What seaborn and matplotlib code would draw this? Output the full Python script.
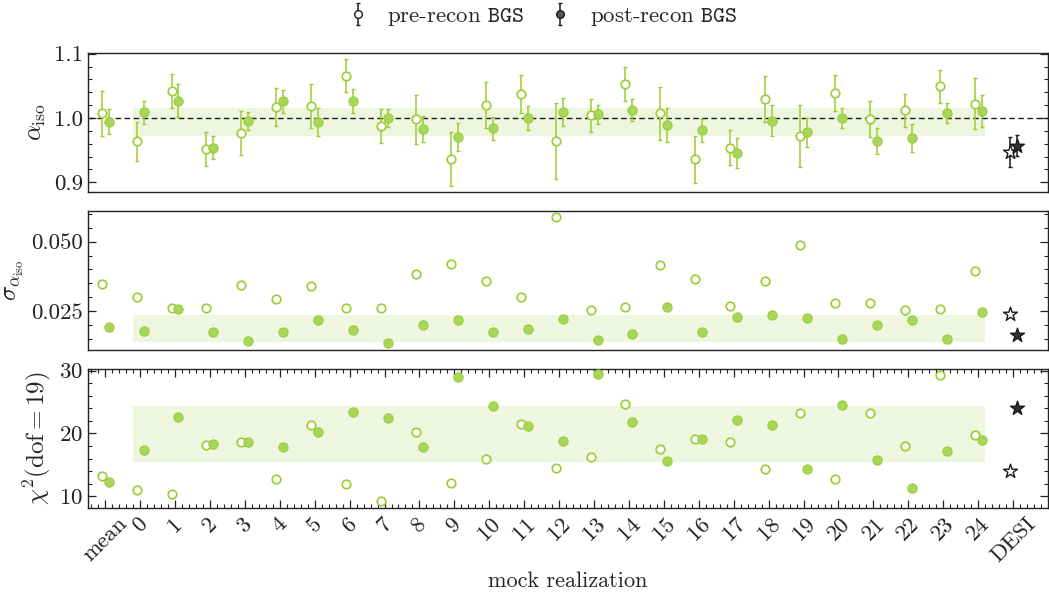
import numpy as np
import pandas as pd
import matplotlib
matplotlib.use("Agg")
import matplotlib.pyplot as plt
from matplotlib.ticker import MultipleLocator, AutoMinorLocator
import seaborn as sns

# ---------------- data ----------------
tick_labels = ["mean"] + [str(i) for i in range(25)] + ["DESI"]
mock_pos = list(range(-1, 25))          # mean + mocks 0..24
desi_pos = 25

alpha_pre = [1.007, 0.964, 1.042, 0.952, 0.977, 1.017, 1.019, 1.066, 0.988, 0.998,
             0.937, 1.020, 1.037, 0.964, 1.004, 1.053, 1.007, 0.936, 0.954, 1.030,
             0.972, 1.039, 0.999, 1.012, 1.049, 1.022]
alpha_post = [0.994, 1.009, 1.027, 0.954, 0.995, 1.026, 0.994, 1.026, 1.000, 0.983,
              0.970, 0.984, 1.000, 1.009, 1.006, 1.013, 0.989, 0.981, 0.946, 0.996,
              0.978, 1.000, 0.964, 0.969, 1.008, 1.011]
sigma_pre = [0.0347, 0.0303, 0.0262, 0.0260, 0.0345, 0.0294, 0.0341, 0.0263, 0.0263, 0.0383,
             0.0419, 0.0359, 0.0300, 0.0589, 0.0254, 0.0266, 0.0416, 0.0366, 0.0268, 0.0360,
             0.0488, 0.0281, 0.0279, 0.0254, 0.0257, 0.0395]
sigma_post = [0.0193, 0.0181, 0.0258, 0.0175, 0.0142, 0.0176, 0.0218, 0.0183, 0.0135, 0.0200,
              0.0217, 0.0177, 0.0185, 0.0221, 0.0146, 0.0170, 0.0267, 0.0176, 0.0230, 0.0236,
              0.0226, 0.0151, 0.0201, 0.0220, 0.0152, 0.0248]
chi2_pre = [13.2, 11.0, 10.3, 18.1, 18.6, 12.8, 21.4, 11.9, 9.3, 20.2,
            12.1, 15.9, 21.5, 14.5, 16.3, 24.7, 17.5, 19.1, 18.6, 14.4,
            23.2, 12.7, 23.3, 18.0, 29.3, 19.7]
chi2_post = [12.3, 17.3, 22.7, 18.3, 18.7, 17.9, 20.3, 23.5, 22.4, 17.9,
             29.0, 24.4, 21.2, 18.8, 29.5, 21.8, 15.6, 19.1, 22.2, 21.3,
             14.4, 24.5, 15.7, 11.3, 17.2, 19.0]

desi_alpha = [0.947, 0.957]     # pre, post
desi_sigma = [0.0239, 0.0165]
desi_chi2 = [14.0, 24.0]

band_alpha = [0.972, 1.015]
band_sigma = [0.0141, 0.0237]
band_chi2 = [15.4, 24.3]
band_x = [-0.2, 24.2]

# ---------------- style ----------------
sns.set_theme(style="ticks")
plt.rcParams["font.family"] = ["cmr10", "DejaVu Serif"]
plt.rcParams["mathtext.fontset"] = "cm"
plt.rcParams["axes.formatter.use_mathtext"] = True
plt.rcParams["axes.unicode_minus"] = False
plt.rcParams["font.size"] = 16

GREEN = "#9acd32"
GREEN_FILL = "#a8d65c"
BAND = "#eef6e0"
off = 0.1

df = pd.DataFrame({
    "x": mock_pos, "alpha_pre": alpha_pre, "alpha_post": alpha_post,
    "sigma_pre": sigma_pre, "sigma_post": sigma_post,
    "chi2_pre": chi2_pre, "chi2_post": chi2_post,
})
df["x_pre"] = df["x"] - off
df["x_post"] = df["x"] + off

fig = plt.figure(figsize=(10.49, 6.01), dpi=100)
L, W, H = 87.7 / 1049, (1048 - 87.7) / 1049, 139 / 601
ax1 = fig.add_axes([L, 1 - 192 / 601, W, H])
ax2 = fig.add_axes([L, 1 - 350 / 601, W, H], sharex=ax1)
ax3 = fig.add_axes([L, 1 - 508 / 601, W, H], sharex=ax1)

def panel(ax, col, desi_vals, band, err=None):
    ax.fill_between(band_x, band[0], band[1], color=BAND, lw=0, zorder=0)
    if err is not None:
        ax.errorbar(df["x_pre"], df[col + "_pre"], yerr=df[err + "_pre"], fmt="none",
                    ecolor=GREEN, elinewidth=1.1, capsize=1.5, capthick=1.0, zorder=2)
        ax.errorbar(df["x_post"], df[col + "_post"], yerr=df[err + "_post"], fmt="none",
                    ecolor=GREEN, elinewidth=1.1, capsize=1.5, capthick=1.0, zorder=2)
        ax.errorbar([desi_pos - off, desi_pos + off], desi_vals, yerr=desi_sigma, fmt="none",
                    ecolor="k", elinewidth=1.1, capsize=1.5, capthick=1.0, zorder=2)
    sns.scatterplot(data=df, x="x_pre", y=col + "_pre", ax=ax, marker="o", s=38,
                    facecolor="white", edgecolor=GREEN, linewidth=1.2, zorder=3)
    sns.scatterplot(data=df, x="x_post", y=col + "_post", ax=ax, marker="o", s=44,
                    color=GREEN_FILL, edgecolor=GREEN, linewidth=0.8, zorder=3)
    ax.scatter([desi_pos - off], [desi_vals[0]], marker="*", s=110, facecolor="white",
               edgecolor="k", linewidth=1.0, zorder=4)
    ax.scatter([desi_pos + off], [desi_vals[1]], marker="*", s=110, facecolor="#333333",
               edgecolor="k", linewidth=1.0, zorder=4)
    ax.set_xlabel("")
    for s in ax.spines.values():
        s.set_linewidth(1.0)
        s.set_color("#222222")
    ax.tick_params(axis="y", which="both", direction="in", left=True, right=True,
                   labelsize=16.5, colors="#222222")
    ax.tick_params(axis="y", which="major", length=6, width=0.9)
    ax.tick_params(axis="y", which="minor", length=3, width=0.8)

panel(ax1, "alpha", desi_alpha, band_alpha, err="sigma")
ax1.axhline(1.0, color="k", ls="--", lw=1.0, dashes=(4, 2.5), zorder=1)
panel(ax2, "sigma", desi_sigma, band_sigma)
panel(ax3, "chi2", desi_chi2, band_chi2)

ax1.set_ylim(0.885, 1.101)
ax1.yaxis.set_major_locator(MultipleLocator(0.1))
ax1.yaxis.set_minor_locator(MultipleLocator(0.02))
ax1.yaxis.set_major_formatter(matplotlib.ticker.FormatStrFormatter("%.1f"))
ax2.set_ylim(0.0111, 0.061)
ax2.yaxis.set_major_locator(MultipleLocator(0.025))
ax2.yaxis.set_minor_locator(MultipleLocator(0.005))
ax2.yaxis.set_major_formatter(matplotlib.ticker.FormatStrFormatter("%.3f"))
ax3.set_ylim(8.13, 30.27)
ax3.yaxis.set_major_locator(MultipleLocator(10))
ax3.yaxis.set_minor_locator(MultipleLocator(2))

ax1.set_ylabel(r"$\alpha_{\rm iso}$", fontsize=18)
ax2.set_ylabel(r"$\sigma_{\alpha_{\rm iso}}$", fontsize=18)
ax3.set_ylabel(r"$\chi^2({\rm dof}=19)$", fontsize=18)

ax1.set_xlim(-1.5, 26.0)
ax3.set_xticks(list(range(-1, 26)))
ax3.set_xticklabels(tick_labels, rotation=45, ha="center", fontsize=16.5)
ax3.xaxis.set_minor_locator(AutoMinorLocator(5))
for ax in (ax1, ax2):
    ax.tick_params(axis="x", which="both", bottom=False, top=False, labelbottom=False)
ax3.tick_params(axis="x", which="both", direction="in", bottom=True, top=True,
                colors="#222222")
ax3.tick_params(axis="x", which="major", length=6, width=0.9, pad=4)
ax3.tick_params(axis="x", which="minor", length=3, width=0.8)
ax3.set_xlabel("mock realization", fontsize=16)

# legend handles
h_pre = ax1.errorbar([np.nan], [np.nan], yerr=[[np.nan], [np.nan]], fmt="o", ms=5.5,
                     mfc="white", mec="k", mew=1.0, ecolor="k", elinewidth=1.1,
                     capsize=1.5, capthick=1.0)
h_post = ax1.errorbar([np.nan], [np.nan], yerr=[[np.nan], [np.nan]], fmt="o", ms=5.5,
                      mfc="#555555", mec="k", mew=1.0, ecolor="k", elinewidth=1.1,
                      capsize=1.5, capthick=1.0)
fig.legend([h_pre, h_post], [r"pre-recon $\mathtt{BGS}$", r"post-recon $\mathtt{BGS}$"],
           loc="center", bbox_to_anchor=(542 / 1049, 1 - 17 / 601), ncol=2,
           frameon=False, fontsize=16.5, handlelength=1.0, handletextpad=0.8,
           columnspacing=1.05, borderpad=0.2)

fig.savefig("out.png", dpi=100)
